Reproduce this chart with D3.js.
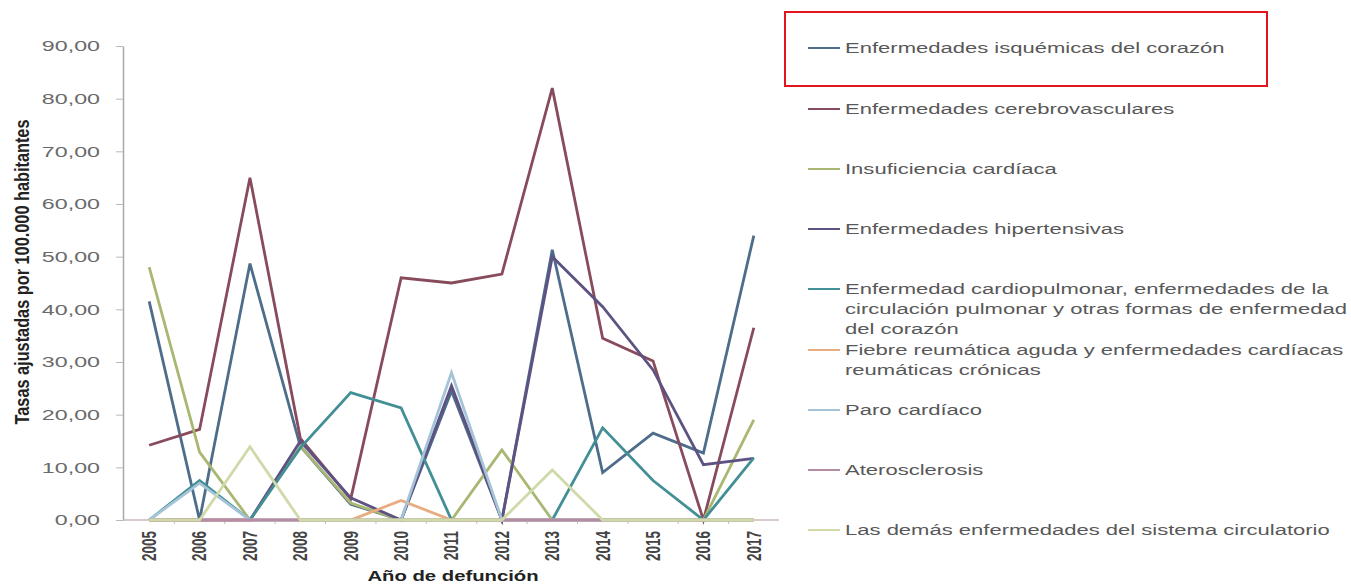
<!DOCTYPE html>
<html>
<head>
<meta charset="utf-8">
<script src="https://d3js.org/d3.v7.min.js"></script>
<style>
    body { margin: 0; background: #fff; }
    text { font-family: Arial, "Liberation Sans", sans-serif; }
</style>
</head>
<body>
<div id="vis_container"></div>
<script>
    var years = [2005, 2006, 2007, 2008, 2009, 2010, 2011, 2012, 2013, 2014, 2015, 2016, 2017];
    var yTicks = [0, 10, 20, 30, 40, 50, 60, 70, 80, 90];

    var seriesNames = [
        "Enfermedades isquémicas del corazón",
        "Enfermedades cerebrovasculares",
        "Insuficiencia cardíaca",
        "Enfermedades hipertensivas",
        "Enfermedad cardiopulmonar, enfermedades de la|circulación pulmonar y otras formas de enfermedad|del corazón",
        "Fiebre reumática aguda y enfermedades cardíacas|reumáticas crónicas",
        "Paro cardíaco",
        "Aterosclerosis",
        "Las demás enfermedades del sistema circulatorio"
    ];

    var isquemicas      = [41.5, 0, 48.7, 14.0, 3.0, 0, 24.5, 0, 51.3, 9.0, 16.5, 12.7, 54.0];
    var cerebro         = [14.2, 17.2, 65.0, 15.5, 4.0, 46.0, 45.0, 46.7, 82.0, 34.5, 30.2, 0, 36.5];
    var insuficiencia   = [48.0, 12.9, 0, 14.0, 3.2, 0, 0, 13.3, 0, 0, 0, 0, 19.0];
    var hipertensivas   = [0, 0, 0, 15.0, 4.2, 0, 25.5, 0, 50.0, 40.5, 28.5, 10.5, 11.7];
    var cardiopulmonar  = [0, 7.5, 0, 13.7, 24.2, 21.3, 0, 0, 0, 17.5, 7.5, 0, 11.8];
    var fiebre          = [0, 0, 0, 0, 0, 3.7, 0, 0, 0, 0, 0, 0, 0];
    var paro            = [0, 7.0, 0, 0, 0, 0, 28.0, 0, 0, 0, 0, 0, 0];
    var aterosclerosis  = [0, 0, 0, 0, 0, 0, 0, 0, 0, 0, 0, 0, 0];
    var lasDemas        = [0, 0, 13.9, 0, 0, 0, 0, 0, 9.5, 0, 0, 0, 0];

    var seriesValues = [isquemicas, cerebro, insuficiencia, hipertensivas, cardiopulmonar,
                        fiebre, paro, aterosclerosis, lasDemas];
    var seriesColors = ["#4d6d8a", "#874b5c", "#a8b872", "#5e5282", "#438f96",
                        "#e9ac80", "#a6c4d8", "#b58ca6", "#cfdaa9"];

    var width = 1351, height = 584;
    var stretch = 1.45;   // the original picture is stretched sideways

    var svg = d3.select("#vis_container")
        .append("svg")
        .attr("width", width)
        .attr("height", height);

    var x = d3.scalePoint().domain(years).range([124, 779]).padding(0.5);
    var y = d3.scaleLinear().domain([0, 90]).range([520, 46]);

    // y axis
    var yAxis = svg.append("g")
        .attr("transform", "translate(123,0)")
        .call(d3.axisLeft(y).tickValues(yTicks).tickSize(7).tickSizeOuter(0)
            .tickFormat(function(d) { return d3.format(".2f")(d).replace(".", ","); }));
    yAxis.select(".domain").attr("stroke", "#a8a8a8").attr("stroke-width", 1.5);
    yAxis.selectAll(".tick line").attr("stroke", "#b8b8b8");
    yAxis.selectAll(".tick text")
        .attr("x", 0)
        .attr("transform", "translate(-23,0) scale(1.55,1)")
        .attr("fill", "#6a6a6a")
        .style("font-size", "15px");

    // x axis line with ticks between categories
    svg.append("line")
        .attr("x1", 123).attr("x2", 779)
        .attr("y1", y(0)).attr("y2", y(0))
        .attr("stroke", "#c8b8bc").attr("stroke-width", 1.5);

    svg.selectAll(".xtick")
        .data(years.slice(1))
        .enter().append("line")
        .attr("class", "xtick")
        .attr("x1", function(d) { return x(d) - x.step() / 2; })
        .attr("x2", function(d) { return x(d) - x.step() / 2; })
        .attr("y1", y(0)).attr("y2", y(0) + 4)
        .attr("stroke", "#d8b4bf");

    svg.selectAll(".xlabel")
        .data(years)
        .enter().append("text")
        .attr("class", "xlabel")
        .attr("transform", function(d) {
            return "translate(" + x(d) + ",531) scale(" + stretch + ",1) rotate(-90)";
        })
        .attr("dy", "0.35em")
        .attr("text-anchor", "end")
        .attr("fill", "#444")
        .style("font-size", "13.5px")
        .style("font-weight", "bold")
        .text(function(d) { return d; });

    svg.append("text")
        .attr("transform", "translate(453,581) scale(" + stretch + ",1)")
        .attr("text-anchor", "middle")
        .attr("fill", "#222")
        .style("font-size", "14px")
        .style("font-weight", "bold")
        .text("Año de defunción");

    svg.append("text")
        .attr("transform", "translate(22,272) scale(" + stretch + ",1) rotate(-90)")
        .attr("text-anchor", "middle")
        .attr("dy", "0.35em")
        .attr("fill", "#222")
        .attr("textLength", 305)
        .attr("lengthAdjust", "spacingAndGlyphs")
        .style("font-size", "14px")
        .style("font-weight", "bold")
        .text("Tasas ajustadas por 100.000 habitantes");

    // series lines
    var line = d3.line()
        .x(function(d, i) { return x(years[i]); })
        .y(function(d) { return y(d); });

    svg.selectAll(".series")
        .data(seriesValues)
        .enter().append("path")
        .attr("class", "series")
        .attr("d", line)
        .attr("fill", "none")
        .attr("stroke", function(d, i) { return seriesColors[i]; })
        .attr("stroke-width", 2.8)
        .attr("stroke-linejoin", "miter");

    // legend
    var legendY = [48, 109, 169, 229, 289, 350, 410, 470, 530];
    var legend = svg.selectAll(".legend")
        .data(seriesNames)
        .enter().append("g")
        .attr("class", "legend")
        .attr("transform", function(d, i) { return "translate(808," + legendY[i] + ")"; });

    legend.append("line")
        .attr("x1", 0).attr("x2", 32)
        .attr("y1", 0).attr("y2", 0)
        .attr("stroke", function(d, i) { return seriesColors[i]; })
        .attr("stroke-width", 2);

    legend.each(function(d) {
        var g = d3.select(this);
        d.split("|").forEach(function(part, k) {
            g.append("text")
                .attr("transform", "translate(37," + (k * 20) + ") scale(1.52,1)")
                .attr("dy", "0.35em")
                .attr("fill", "#585858")
                .style("font-size", "14.5px")
                .text(part);
        });
    });

    // highlight box
    svg.append("rect")
        .attr("x", 785).attr("y", 12)
        .attr("width", 482).attr("height", 74)
        .attr("fill", "none")
        .attr("stroke", "#e3141b")
        .attr("stroke-width", 2);
</script>
</body>
</html>
